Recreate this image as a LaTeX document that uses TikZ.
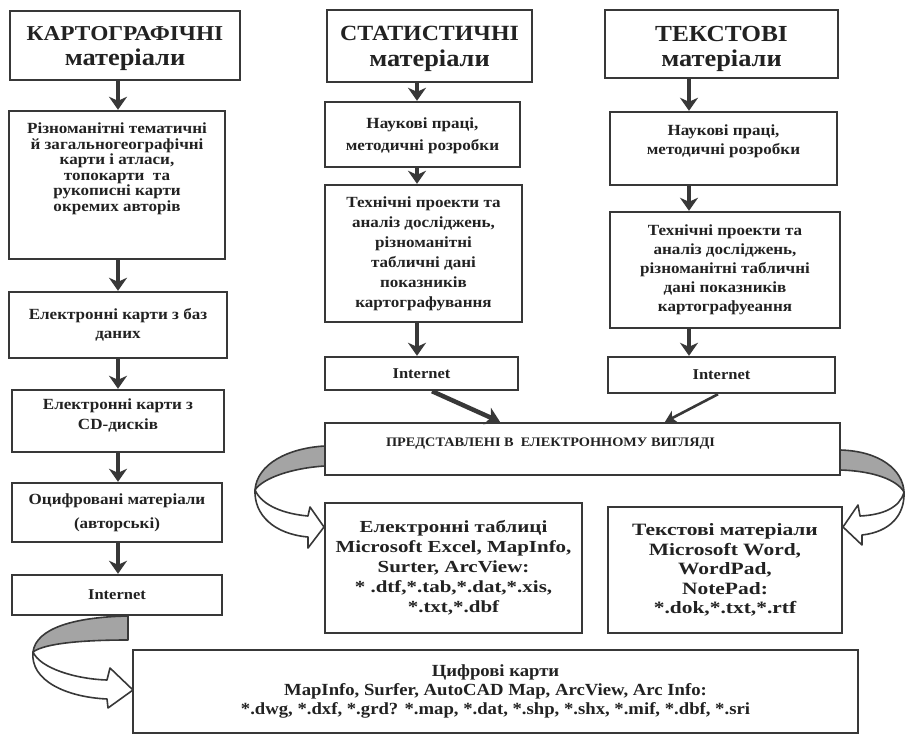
\documentclass[tikz,border=0pt]{standalone}
\usepackage{fontspec}
\setmainfont{Liberation Serif}[FakeStretch=1.1]
\newfontfamily\widefont{Liberation Serif}[FakeStretch=1.24]
\usetikzlibrary{arrows.meta}
\definecolor{ink}{HTML}{222222}
\definecolor{frame}{HTML}{383838}
\definecolor{band}{HTML}{A4A4A4}
\newcommand{\fs}[2]{\fontsize{#1}{#2}\selectfont}
% fixed-size text block: height, width, top gap, text
\newcommand{\topblock}[4]{\parbox[c][#1][t]{#2}{\centering\vspace*{#3}#4\par}}
\tikzset{
  box/.style={draw=frame, line width=2.4pt, fill=white, align=center, inner sep=2pt, text=ink, font=\bfseries\fs{15.5}{19}},
  tbox/.style={draw=frame, line width=2.4pt, fill=white, inner sep=0pt, text=ink},
  down/.style={draw=frame, line width=3.5pt, -{Stealth[length=13pt,width=18pt,inset=4pt]}},
  ribback/.style={draw=frame, line width=1.6pt, fill=band, line join=round},
  ribfront/.style={draw=frame, line width=1.6pt, fill=white, line join=round},
}
\begin{document}
\begin{tikzpicture}[x=1pt,y=-1pt]
\useasboundingbox (0,0) rectangle (906,735);
% ---------- left column
\node[tbox, font=\bfseries\fs{21.2}{25.5}] (K1) at (125,45.5) {\topblock{69pt}{230pt}{15pt}{КАРТОГРАФІЧНІ\\{\fs{24}{25.5}матеріали}}};
\node[tbox, font=\bfseries\fs{15.5}{15.5}] (K2) at (117,185) {\topblock{148pt}{216pt}{12pt}{Різноманітні тематичні\\й загальногеографічні\\карти і атласи,\\топокарти~~та\\рукописні карти\\окремих авторів}};
\node[box, minimum width=218, minimum height=66, font=\bfseries\fs{15.5}{19}] (K3) at (118,325) {Електронні карти з баз\\даних};
\node[tbox, font=\bfseries\fs{15.5}{20}] (K4) at (118,421) {\topblock{62pt}{212pt}{8.5pt}{Електронні карти з\\CD-дисків}};
\node[box, minimum width=210, minimum height=59, font=\bfseries\fs{15.5}{24}] (K5) at (117,512.5) {Оцифровані матеріали\\(авторські)};
\node[box, minimum width=210, minimum height=40, font=\bfseries\fs{15}{17}] (K6) at (117,595) {Internet};
% ---------- middle column
\node[tbox, font=\bfseries\fs{21.7}{25.5}] (S1) at (429.5,46) {\topblock{72pt}{205pt}{16.5pt}{СТАТИСТИЧНІ\\{\fs{24}{25.5}матеріали}}};
\node[tbox, font=\bfseries\fs{15.5}{22}] (S2) at (422.5,134.5) {\topblock{65pt}{195pt}{16pt}{Наукові праці,\\методичні розробки}};
\node[box, minimum width=197, minimum height=137, font=\bfseries\fs{15.5}{20}] (S3) at (423.5,253.5) {Технічні проекти та\\аналіз досліджень,\\різноманітні\\табличні дані\\показників\\картографування};
\node[box, minimum width=193, minimum height=33, font=\bfseries\fs{15}{17}] (S4) at (421.5,373.5) {Internet};
% ---------- right column
\node[tbox, font=\bfseries\fs{23}{25.5}] (T1) at (721.5,44) {\topblock{68pt}{233pt}{16pt}{ТЕКСТОВІ\\{\fs{24}{25.5}матеріали}}};
\node[tbox, font=\bfseries\fs{15.5}{19}] (T2) at (723.5,148.5) {\topblock{73pt}{227pt}{13pt}{Наукові праці,\\методичні розробки}};
\node[box, minimum width=230, minimum height=116, font=\bfseries\fs{15.5}{19}] (T3) at (725,270) {Технічні проекти та\\аналіз досліджень,\\різноманітні табличні\\дані показників\\картографуеання};
\node[box, minimum width=227, minimum height=36, font=\bfseries\fs{15}{17}] (T4) at (721.5,375) {Internet};
% ---------- electronic form
\node[tbox, font=\bfseries\fs{13}{15}] (P) at (582.5,449) {\parbox[c][52pt][t]{515pt}{\vspace*{15pt}\hspace*{61pt}ПРЕДСТАВЛЕНІ В~~ЕЛЕКТРОННОМУ ВИГЛЯДІ\par}};
\node[box, minimum width=257, minimum height=130, font=\widefont\bfseries\fs{16.9}{20}] (E1) at (453.5,568) {Електронні таблиці\\Microsoft Excel, MapInfo,\\Surter, ArcView:\\* .dtf,*.tab,*.dat,*.xis,\\*.txt,*.dbf};
\node[box, minimum width=234, minimum height=126, font=\widefont\bfseries\fs{17.3}{19.5}] (E2) at (725,570) {Текстові матеріали\\Microsoft Word,\\WordPad,\\NotePad:\\*.dok,*.txt,*.rtf};
\node[box, minimum width=725, minimum height=83, font=\bfseries\fs{17}{19}] (C) at (495.5,691.5) {Цифрові карти\\MapInfo, Surfer, AutoCAD Map, ArcView, Arc Info:\\*.dwg, *.dxf, *.grd? *.map, *.dat, *.shp, *.shx, *.mif, *.dbf, *.sri};
% ---------- vertical arrows
\coordinate (xK) at (118,0);
\coordinate (xS) at (417,0);
\coordinate (xT) at (689,0);
\draw[down] (xK |- K1.south) -- (xK |- K2.north);
\draw[down] (xK |- K2.south) -- (xK |- K3.north);
\draw[down] (xK |- K3.south) -- (xK |- K4.north);
\draw[down] (xK |- K4.south) -- (xK |- K5.north);
\draw[down] (xK |- K5.south) -- (xK |- K6.north);
\draw[down] (xS |- S1.south) -- (xS |- S2.north);
\draw[down] (xS |- S2.south) -- (xS |- S3.north);
\draw[down] (xS |- S3.south) -- (xS |- S4.north);
\draw[down] (xT |- T1.south) -- (xT |- T2.north);
\draw[down] (xT |- T2.south) -- (xT |- T3.north);
\draw[down] (xT |- T3.south) -- (xT |- T4.north);
% ---------- diagonal arrows into P
\coordinate (sA) at (432,0);
\coordinate (pA) at (500,0);
\coordinate (tA) at (718,0);
\coordinate (pB) at (665,0);
\draw[draw=frame, line width=4.5pt, -{Stealth[length=14pt,width=18pt,inset=4pt]}] (sA |- S4.south) -- (pA |- P.north);
\draw[draw=frame, line width=2.6pt, -{Stealth[length=11pt,width=13pt,inset=3pt]}] (tA |- T4.south) -- (pB |- P.north);
% ---------- ribbon: P -> E1
\draw[ribback] (325,446) .. controls (288,448) and (257,464) .. (255,490)
  .. controls (263,478) and (292,468) .. (325,466) -- cycle;
\draw[ribfront] (255,490) .. controls (262,506) and (285,514) .. (308,516)
  -- (310,507) -- (324,527) -- (308,548) -- (308,537)
  .. controls (274,534) and (254,515) .. (255,490) -- cycle;
% ---------- ribbon: P -> E2
\draw[ribback] (840,450) .. controls (880,451) and (903,470) .. (904,492)
  .. controls (897,480) and (874,471) .. (840,470) -- cycle;
\draw[ribfront] (904,492) .. controls (900,508) and (882,515) .. (860,516)
  -- (858,505) -- (843,527) -- (862,545) -- (862,535)
  .. controls (890,532) and (905,515) .. (904,492) -- cycle;
% ---------- ribbon: K6 -> C
\draw[ribback] (128,616) .. controls (75,617) and (36,628) .. (33,652)
  .. controls (45,643) and (85,640) .. (128,640) -- cycle;
\draw[ribfront] (33,652) .. controls (40,668) and (75,679) .. (107,680)
  -- (110,668) -- (133,690) -- (108,708) -- (107,699)
  .. controls (65,697) and (30,680) .. (33,652) -- cycle;
\end{tikzpicture}
\end{document}
